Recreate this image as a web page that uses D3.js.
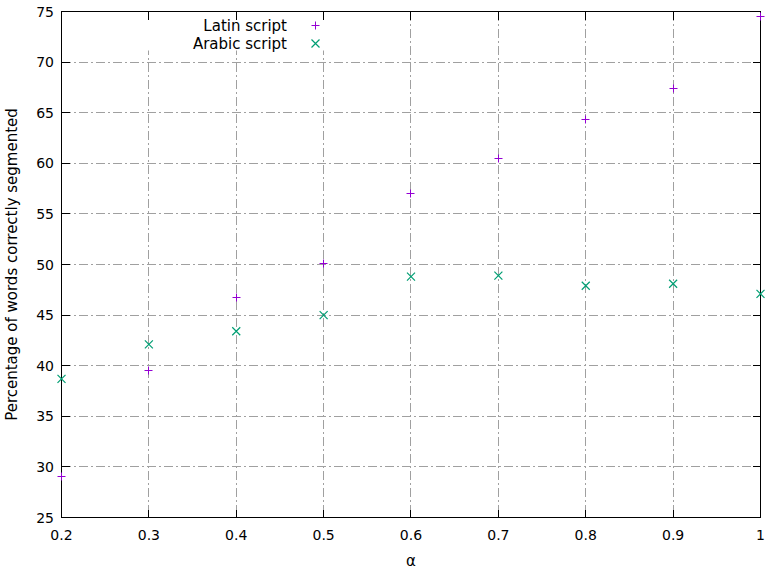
<html>
<head>
    <script src="https://d3js.org/d3.v7.min.js"></script>
    <style>
        body { margin: 0; background: #fff; }
        text { font-family: "DejaVu Sans", sans-serif; font-size: 14px; fill: #000; }
        text.lbl { font-size: 15px; }
    </style>
</head>
<body>
    <svg id="chart" width="774" height="576"></svg>
    <script>
        // data
        var alphas = [0.2, 0.3, 0.4, 0.5, 0.6, 0.7, 0.8, 0.9, 1.0];
        var latin = [29.1, 39.5, 46.7, 50.1, 57.0, 60.5, 64.3, 67.4, 74.5];
        var arabic = [38.7, 42.1, 43.4, 45.0, 48.8, 48.9, 47.9, 48.1, 47.1];
        var xTicks = [0.2, 0.3, 0.4, 0.5, 0.6, 0.7, 0.8, 0.9, 1];
        var xTickLabels = ["0.2", "0.3", "0.4", "0.5", "0.6", "0.7", "0.8", "0.9", "1"];
        var yTicks = [25, 30, 35, 40, 45, 50, 55, 60, 65, 70, 75];

        (function () {
            var pLeft = 61.5, pRight = 760.5, pTop = 11.5, pBottom = 517.5;
            var svg = d3.select("#chart");
            var x = d3.scaleLinear().domain([0.2, 1]).range([pLeft, pRight]);
            var y = d3.scaleLinear().domain([25, 75]).range([pBottom, pTop]);
            var snap = function (v) { return Math.round(v - 0.5) + 0.5; };

            // grid
            var grid = svg.append("g").attr("stroke", "#a0a0a0").attr("stroke-width", 1)
                .attr("stroke-dasharray", "9,3,2,3").attr("shape-rendering", "crispEdges");
            grid.selectAll("line.h").data(yTicks.slice(1, -1)).enter().append("line")
                .attr("x1", pLeft).attr("x2", pRight)
                .attr("y1", function (d) { return snap(y(d)); }).attr("y2", function (d) { return snap(y(d)); });
            grid.selectAll("line.v").data(xTicks.slice(1, -1)).enter().append("line")
                .attr("y1", pTop).attr("y2", pBottom)
                .attr("x1", function (d) { return snap(x(d)); }).attr("x2", function (d) { return snap(x(d)); });

            // opaque key box
            svg.append("rect").attr("x", 140).attr("y", pTop + 1).attr("width", 195).attr("height", 38).attr("fill", "#fff");

            // ticks on all sides
            var ticks = svg.append("g").attr("stroke", "#000").attr("shape-rendering", "crispEdges");
            yTicks.forEach(function (t) {
                var yy = snap(y(t));
                ticks.append("line").attr("x1", pLeft).attr("x2", pLeft + 8).attr("y1", yy).attr("y2", yy);
                ticks.append("line").attr("x1", pRight).attr("x2", pRight - 8).attr("y1", yy).attr("y2", yy);
            });
            xTicks.forEach(function (t) {
                var xx = snap(x(t));
                ticks.append("line").attr("y1", pBottom).attr("y2", pBottom - 8).attr("x1", xx).attr("x2", xx);
                ticks.append("line").attr("y1", pTop).attr("y2", pTop + 8).attr("x1", xx).attr("x2", xx);
            });
            svg.append("rect").attr("x", pLeft).attr("y", pTop).attr("width", pRight - pLeft).attr("height", pBottom - pTop)
                .attr("fill", "none").attr("stroke", "#000").attr("shape-rendering", "crispEdges");

            // tick labels
            svg.selectAll("text.yt").data(yTicks).enter().append("text")
                .attr("x", 54).attr("y", function (d) { return y(d) + 5; })
                .attr("text-anchor", "end").text(function (d) { return d; });
            svg.selectAll("text.xt").data(xTicks).enter().append("text")
                .attr("x", function (d) { return x(d); }).attr("y", 540)
                .attr("text-anchor", "middle").text(function (d, i) { return xTickLabels[i]; });

            // axis titles
            svg.append("text").attr("class", "lbl").attr("x", 411).attr("y", 566).attr("text-anchor", "middle").text("α");
            svg.append("text").attr("class", "lbl").attr("transform", "translate(17," + ((pTop + pBottom) / 2) + ") rotate(-90)")
                .attr("text-anchor", "middle").text("Percentage of words correctly segmented");

            // markers
            var plus = function (g, cx, cy, color) {
                g.append("path").attr("d", "M" + (cx - 4) + "," + cy + "H" + (cx + 4) + "M" + cx + "," + (cy - 4) + "V" + (cy + 4))
                    .attr("stroke", color).attr("stroke-width", 1).attr("fill", "none");
            };
            var cross = function (g, cx, cy, color) {
                g.append("path").attr("d", "M" + (cx - 4) + "," + (cy - 4) + "L" + (cx + 4) + "," + (cy + 4) + "M" + (cx - 4) + "," + (cy + 4) + "L" + (cx + 4) + "," + (cy - 4))
                    .attr("stroke", color).attr("stroke-width", 1.2).attr("fill", "none");
            };
            var marks = svg.append("g");
            alphas.forEach(function (a, i) {
                plus(marks, snap(x(a)), snap(y(latin[i])), "#9400d3");
                cross(marks, x(a), y(arabic[i]), "#009e73");
            });

            // legend
            svg.append("text").attr("class", "lbl").attr("x", 287).attr("y", 31).attr("text-anchor", "end").text("Latin script");
            svg.append("text").attr("class", "lbl").attr("x", 287).attr("y", 49).attr("text-anchor", "end").text("Arabic script");
            plus(marks, 315.5, 25.5, "#9400d3");
            cross(marks, 315.5, 43.5, "#009e73");
        })();
    </script>
</body>
</html>
